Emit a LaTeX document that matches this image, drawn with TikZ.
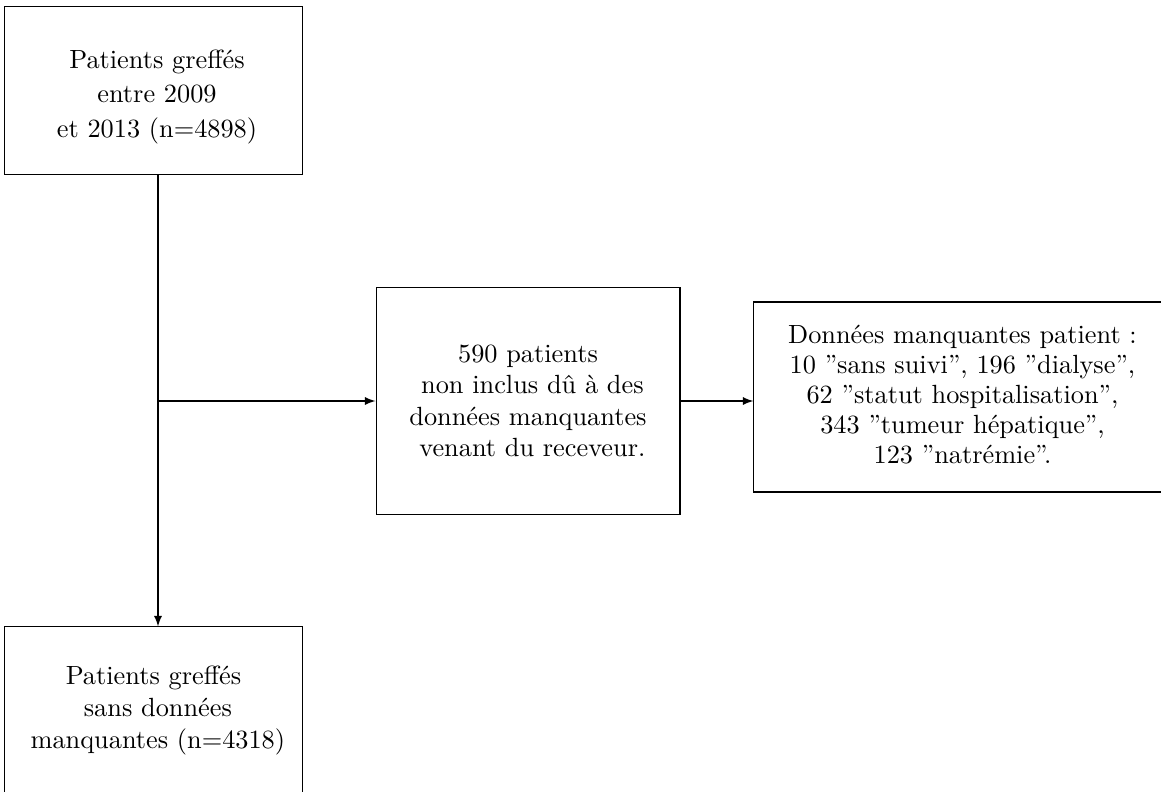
\documentclass[tikz,border=0pt]{standalone}
\begin{document}
\begin{tikzpicture}[x=0.38pt,y=-0.38pt,>=latex,
  box/.style={draw, rectangle, inner sep=0pt, align=center, line width=0.4pt},
  txt/.style={inner sep=0pt, align=center},
  conn/.style={->, line width=0.4pt}]
\useasboundingbox (0,0) rectangle (1161,792);
\clip (0,0) rectangle (1161,792);
\node[box, minimum width=112.9pt, minimum height=63.5pt] (b1) at (153.5,90.5) {};
\node[txt] (b1t) at (157,97)
  {Patients greffés\\[1pt] entre 2009\\[1pt] et 2013 (n=4898)};
\node[box, minimum width=115.5pt, minimum height=86.6pt] (b2) at (528,401)
  {590 patients\\ \ non inclus dû à des\\ données manquantes\\ \ venant du receveur.};
\node[box, minimum width=158.5pt, minimum height=72.2pt] (b3) at (962.5,397) {};
\node[txt] (b3t) at (962.5,395)
  {Données manquantes patient :\\[-0.6pt] 10 ”sans suivi”, 196 ”dialyse”,\\[-0.6pt] 62 ”statut hospitalisation”,\\[-0.6pt] 343 ”tumeur hépatique”,\\[-0.6pt] 123 ”natrémie”.};
\node[box, minimum width=112.9pt, minimum height=63.5pt] (b4) at (153.5,710.5)
  {Patients greffés\\ \ sans données\\ \ manquantes (n=4318)};
\coordinate (j) at (158,401);
\draw (b1.south -| j) -- (j);
\draw[conn] (j) -- (b4.north -| j);
\draw[conn] (j) -- (b2.west |- j);
\draw[conn] (b2.east) -- (b3.west |- b2.east);
\end{tikzpicture}
\end{document}
